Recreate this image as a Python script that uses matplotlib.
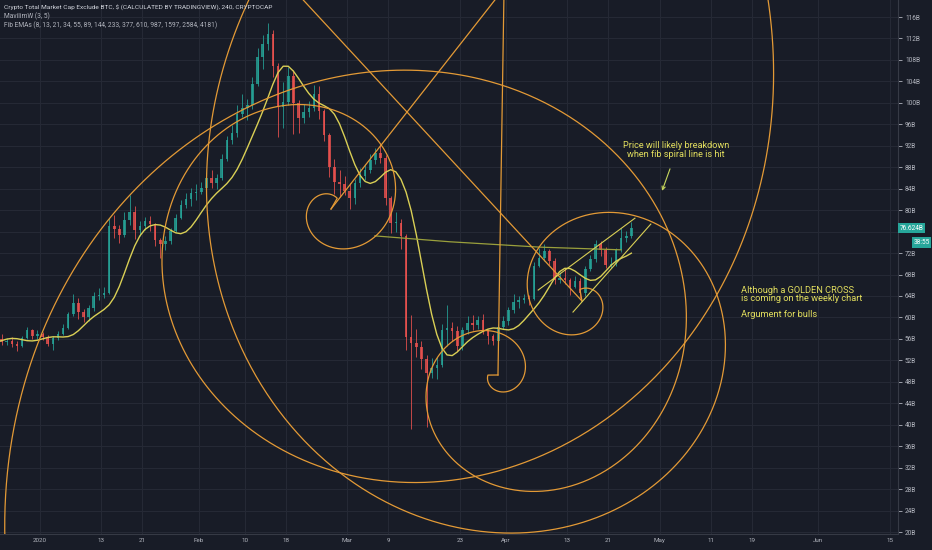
import numpy as np
import matplotlib.pyplot as plt

# цвета в духе тёмной темы TradingView
BG = '#181c27'
GRID = '#252935'
AXIS_TXT = '#b2b5be'
UP, DOWN = '#26a69a', '#ef5350'
ORANGE = '#e39a36'
YELLOW = '#d9cf55'
OLIVE = '#9aa03c'
NOTE = '#e3df5e'
plt.rcParams['font.family'] = ['Roboto', 'DejaVu Sans']

PHI = (1 + 5 ** 0.5) / 2

# Дневные свечи, день 0 = 2020-01-01, первый день = 2019-12-10
FIRST_DAY = -22
close = [57.2, 57.6, 57.5, 57.0, 56.8, 57.3, 56.2, 54.8, 52.5, 55.6, 55.9, 56.4, 57.8, 56.0,
         55.4, 55.6, 55.0, 54.6, 56.1, 57.6, 56.6, 56.9,
         56.4, 55.0, 56.2, 57.0, 58.0, 60.6, 62.6, 61.0, 60.0, 61.8, 64.0, 64.2, 64.6,
         77.0, 76.4, 75.4, 78.2, 79.6, 76.3, 77.0, 77.9, 77.4, 74.4, 73.6, 74.2, 76.2,
         78.5, 81.0, 82.0, 83.2, 83.4,
         84.2, 86.0, 85.0, 86.0, 89.6, 93.0, 94.4, 98.0, 99.0, 99.6, 103.6, 108.6, 111.0,
         112.8, 106.8, 99.2, 100.2, 105.0, 100.0, 97.2, 98.2, 99.0, 101.6, 98.4, 94.0,
         88.0, 85.2, 84.8, 83.6,
         82.2, 85.0, 86.4, 87.4, 89.4, 90.6, 89.8, 82.2, 77.6, 77.6, 75.2, 56.4, 55.2,
         54.4, 52.2, 49.6, 50.6, 51.2, 57.6, 58.0, 57.4, 54.6, 57.6, 59.0, 58.6, 59.6,
         57.6, 56.6, 55.6, 58.2, 59.4,
         61.4, 62.8, 63.2, 63.6, 63.4, 69.6, 71.0, 72.4, 70.6, 67.0, 67.4, 67.0, 65.6,
         66.8, 64.6, 69.0, 70.8, 73.6, 72.6, 69.8, 70.0, 72.6, 74.8, 75.2, 76.624]
high = [58.0, 58.4, 58.2, 57.9, 57.6, 57.9, 57.4, 56.5, 55.0, 56.2, 56.6, 57.0, 58.4, 57.9,
        57.0, 56.2, 56.3, 55.6, 56.6, 58.2, 57.9, 57.6,
        57.3, 56.7, 56.5, 57.4, 58.8, 61.0, 64.4, 63.6, 61.6, 62.3, 64.8, 65.5, 65.6,
        78.6, 79.0, 77.2, 79.6, 82.8, 80.8, 78.0, 78.8, 78.9, 77.6, 74.8, 75.2, 76.7,
        79.2, 81.8, 83.2, 84.2, 84.8,
        85.2, 87.2, 87.4, 86.8, 90.4, 93.8, 95.8, 99.6, 101.6, 100.8, 104.8, 110.2, 112.6,
        114.9, 113.6, 107.4, 103.8, 106.6, 106.2, 100.6, 99.8, 100.4, 103.4, 103.2, 98.8,
        94.4, 89.6, 87.4, 86.4,
        85.0, 85.8, 87.8, 88.6, 90.4, 91.6, 92.4, 90.2, 82.6, 79.6, 78.4, 75.6, 60.4,
        57.8, 55.6, 53.0, 52.4, 52.6, 58.8, 62.4, 59.2, 58.4, 58.2, 60.2, 60.4, 60.2,
        60.6, 57.8, 57.0, 58.8, 60.2,
        61.9, 64.4, 64.0, 64.4, 64.2, 70.4, 73.0, 73.6, 72.8, 71.0, 68.4, 69.2, 67.4,
        67.8, 67.4, 69.6, 71.6, 74.4, 74.2, 73.2, 71.2, 73.0, 76.6, 76.2, 77.8]
low = [56.4, 56.8, 56.7, 56.3, 56.0, 56.4, 55.6, 54.0, 52.0, 52.4, 55.0, 55.5, 56.2, 55.6,
       54.9, 54.8, 54.5, 53.8, 54.4, 55.9, 56.0, 56.0,
       55.8, 54.6, 53.9, 55.8, 56.7, 57.8, 60.2, 59.8, 59.2, 59.4, 61.2, 63.2, 63.6,
       64.4, 74.8, 73.8, 75.0, 77.2, 74.6, 75.2, 76.3, 76.2, 73.4, 71.0, 72.6, 73.6,
       75.9, 78.3, 80.4, 80.8, 81.9,
       83.0, 83.5, 84.2, 83.9, 85.7, 89.2, 92.4, 93.6, 97.4, 96.8, 98.8, 103.2, 106.4,
       109.8, 104.8, 93.6, 95.4, 99.6, 94.2, 94.4, 96.2, 97.3, 98.4, 97.0, 92.8,
       86.2, 83.0, 82.4, 82.8,
       80.2, 81.2, 84.4, 85.6, 87.0, 88.6, 88.8, 81.0, 75.8, 76.0, 72.8, 54.0, 39.2,
       52.6, 50.4, 39.6, 48.8, 48.6, 50.8, 54.6, 55.6, 53.8, 54.0, 57.0, 57.6, 57.9,
       57.0, 55.0, 54.8, 55.2, 57.8,
       58.6, 60.8, 61.8, 62.6, 62.4, 63.2, 69.4, 70.6, 69.8, 66.2, 66.4, 66.2, 64.2,
       65.4, 63.6, 64.0, 68.6, 70.4, 71.4, 69.2, 69.2, 69.6, 72.2, 74.0, 74.8]

# MavilimW (3, 5): цепочка WMA, длины пересчитаны под дневные свечи
MAV_LENGTHS = [2, 2, 3, 3, 4, 5]

# подписи осей (76B скрыта под меткой текущей цены, как на графике)
PRICE_TICKS = list(range(20, 117, 4))
PRICE_LABELS = ['' if t == 76 else f'{t}B' for t in PRICE_TICKS]
DATE_TICKS = [0, 12, 20, 31, 40, 48, 60, 68, 82, 91, 103, 111, 121, 131, 139, 152, 166]
DATE_LABELS = ['2020', '13', '21', 'Feb', '10', '18', 'Mar', '9', '23', 'Apr',
               '13', '21', 'May', '11', '19', 'Jun', '15']

# рисунки: спирали Фибоначчи (центр: день, цена; радиус в px при угле th_ref)
SPIRALS = [
    dict(day=56.84, price=80.21, r_ref=61, th_ref=358, th0=60, th1=900, turn=1, ray=51.9),
    dict(day=89.45, price=49.27, r_ref=30, th_ref=25, th0=-180, th1=760, turn=1, ray=89.1),
    dict(day=105.86, price=63.06, r_ref=22, th_ref=-18, th0=100, th1=-760, turn=-1, ray=132.8),
]
OLIVE_DAYS = [65.4, 80.1, 97.7, 113.5]
OLIVE_PRICES = [75.2, 74.1, 73.1, 72.6]
CHANNEL_UP = ([97.3, 116.2], [65.1, 78.5])
CHANNEL_LO = ([104.1, 119.3], [61.0, 77.4])

X0, X1 = -7.81, 167.58
Y0, Y1 = 19.63, 119.17
W, H = 932, 550
AX_W, AX_H, AX_B = 898, 534, 16


def wma(x, n):
    w = np.arange(1, n + 1)
    out = np.full(len(x), np.nan)
    for i in range(n - 1, len(x)):
        out[i] = np.dot(x[i - n + 1:i + 1], w) / w.sum()
    return out


close = np.array(close)
high = np.array(high)
low = np.array(low)
opn = np.r_[close[0], close[:-1]]
days = FIRST_DAY + np.arange(len(close)) + 0.5

mav = close.copy()
for n in MAV_LENGTHS:
    mav = wma(mav, n)

fig = plt.figure(figsize=(W / 100, H / 100), dpi=100)
fig.patch.set_facecolor(BG)
ax = fig.add_axes([0, AX_B / H, AX_W / W, AX_H / H])
ax.set_facecolor(BG)
ax.set_xlim(X0, X1)
ax.set_ylim(Y0, Y1)

PXD = AX_W / (X1 - X0)
PXB = AX_H / (Y1 - Y0)

# сетка
for t in PRICE_TICKS:
    ax.axhline(t, color=GRID, lw=0.8, zorder=0)
for t in DATE_TICKS:
    ax.axvline(t, color=GRID, lw=0.8, zorder=0)

# свечи
up = close >= opn
cols = np.where(up, UP, DOWN)
ax.vlines(days, low, high, colors=cols, lw=0.7, alpha=0.8, zorder=2)
ax.bar(days, np.maximum(np.abs(close - opn), 0.15), bottom=np.minimum(close, opn),
       width=0.5, color=cols, linewidth=0, alpha=0.8, zorder=2)

# MavilimW
ax.plot(days, mav, color=YELLOW, lw=1.0, zorder=3)

# спирали и их лучи
for s in SPIRALS:
    th = np.linspace(s['th0'], s['th1'], 1500)
    r = s['r_ref'] * PHI ** (s['turn'] * (th - s['th_ref']) / 90)
    xs = s['day'] + r * np.cos(np.radians(th)) / PXD
    ys = s['price'] + r * np.sin(np.radians(th)) / PXB
    ax.plot(np.r_[s['day'], xs], np.r_[s['price'], ys], color=ORANGE, lw=0.9, zorder=4)
    a = np.radians(s['ray'])
    ax.plot([s['day'], s['day'] + 900 * np.cos(a) / PXD],
            [s['price'], s['price'] + 900 * np.sin(a) / PXB], color=ORANGE, lw=0.9, zorder=4)

ax.plot(OLIVE_DAYS, OLIVE_PRICES, color=OLIVE, lw=0.9, zorder=3)
ax.plot(*CHANNEL_UP, color=YELLOW, lw=0.8, zorder=4)
ax.plot(*CHANNEL_LO, color=YELLOW, lw=0.8, zorder=4)

# заметки
ax.text(124.2, 92.0, 'Price will likely breakdown', color=NOTE, fontsize=6.6,
        ha='center', va='center', zorder=5)
ax.text(124.2, 90.4, 'when fib spiral line is hit', color=NOTE, fontsize=6.6,
        ha='center', va='center', zorder=5)
ax.annotate('', xy=(121.5, 83.6), xytext=(123.05, 87.7),
            arrowprops=dict(arrowstyle='->', color='#c8d85e', lw=0.8,
                            shrinkA=0, shrinkB=0, mutation_scale=6))
ax.text(136.9, 65.1, 'Although a GOLDEN CROSS', color=NOTE, fontsize=6.7, va='center')
ax.text(136.9, 63.5, 'is coming on the weekly chart', color=NOTE, fontsize=6.7, va='center')
ax.text(136.9, 60.6, 'Argument for bulls', color=NOTE, fontsize=6.7, va='center')

# оси
ax.yaxis.tick_right()
ax.set_yticks(PRICE_TICKS)
ax.set_yticklabels(PRICE_LABELS)
ax.set_xticks(DATE_TICKS)
ax.set_xticklabels(DATE_LABELS)
ax.tick_params(axis='y', colors=AXIS_TXT, labelsize=4.7, length=3, pad=2, width=0.6)
ax.tick_params(axis='x', colors=AXIS_TXT, labelsize=4.5, length=0, pad=3)
for sp in ['top', 'left']:
    ax.spines[sp].set_visible(False)
ax.spines['right'].set_color('#363a45')
ax.spines['bottom'].set_color('#363a45')

# метка последней цены и таймер свечи
last = close[-1]
ax.text(1.0015, last, f'{last:.3f}B', transform=ax.get_yaxis_transform(), color='white',
        fontsize=4.7, va='center', ha='left', zorder=6, clip_on=False,
        bbox=dict(boxstyle='square,pad=0.25', fc='#26a69a', ec='none'))
ax.text(0.9985 + 33 / AX_W, last - 2.65, '38:55', transform=ax.get_yaxis_transform(),
        color='white', fontsize=4.7, va='center', ha='right', zorder=6, clip_on=False,
        bbox=dict(boxstyle='square,pad=0.25', fc='#26a69a', ec='none'))

# легенда сверху
fig.text(4 / W, 1 - 7 / H,
         'Crypto Total Market Cap Exclude BTC, $ (CALCULATED BY TRADINGVIEW), 240, CRYPTOCAP',
         color='#d1d4dc', fontsize=4.65, va='center')
fig.text(4 / W, 1 - 16 / H, 'MavilimW (3, 5)', color=AXIS_TXT, fontsize=4.8, va='center')
fig.text(4 / W, 1 - 25 / H,
         'Fib EMAs (8, 13, 21, 34, 55, 89, 144, 233, 377, 610, 987, 1597, 2584, 4181)',
         color=AXIS_TXT, fontsize=4.8, va='center')

fig.savefig('out.png', dpi=100, facecolor=BG)
